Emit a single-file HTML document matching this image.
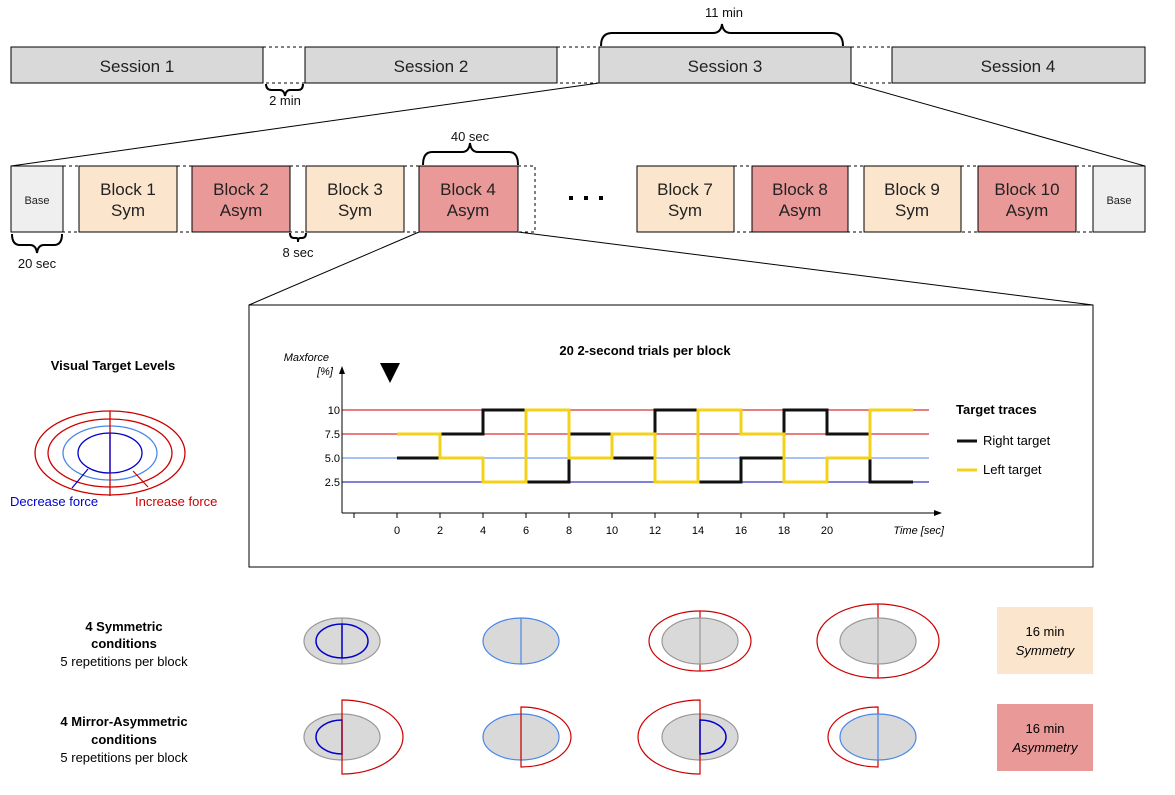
<!DOCTYPE html>
<html><head><meta charset="utf-8"><style>
html,body{margin:0;padding:0;background:#fff;}
svg{display:block;font-family:"Liberation Sans",Arial,sans-serif;}
</style></head><body>
<svg id="fig" width="1175" height="795" viewBox="0 0 1175 795" xmlns="http://www.w3.org/2000/svg">
<g>
  <rect x="263" y="47" width="42" height="36" fill="#fff" stroke="#000" stroke-dasharray="3,3"/>
  <rect x="557" y="47" width="42" height="36" fill="#fff" stroke="#000" stroke-dasharray="3,3"/>
  <rect x="851" y="47" width="41" height="36" fill="#fff" stroke="#000" stroke-dasharray="3,3"/>
  <rect x="11" y="47" width="252" height="36" fill="#d9d9d9" stroke="#000"/>
  <rect x="305" y="47" width="252" height="36" fill="#d9d9d9" stroke="#000"/>
  <rect x="599" y="47" width="252" height="36" fill="#d9d9d9" stroke="#000"/>
  <rect x="892" y="47" width="253" height="36" fill="#d9d9d9" stroke="#000"/>
  <g font-size="17" text-anchor="middle" fill="#222">
    <text x="137" y="72">Session 1</text>
    <text x="431" y="72">Session 2</text>
    <text x="725" y="72">Session 3</text>
    <text x="1018" y="72">Session 4</text>
  </g>
</g>
<g fill="none" stroke="#000" stroke-width="2">
  <path d="M601,46 Q601,33 612,33 L713,33 Q721,33 722,24 Q723,33 731,33 L832,33 Q843,33 843,46"/>
  <path d="M266,84 Q266,90 272,90 L280,90 Q284,90 285,96 Q286,90 290,90 L298,90 Q303,90 303,84"/>
  <path d="M423,165 Q423,152 432,152 L462,152 Q469,152 470,143 Q471,152 478,152 L509,152 Q518,152 518,165"/>
  <path d="M12,234 Q12,245 20,245 L30,245 Q36,245 37,253 Q38,245 44,245 L54,245 Q62,245 62,234"/>
  <path d="M290,233 Q290,238 294,238 L297,238 Q298,238 298,242 Q298,238 300,238 L302,238 Q306,238 306,233"/>
</g>
<g font-size="13" text-anchor="middle" fill="#111">
  <text x="724" y="17">11 min</text>
  <text x="285" y="105">2 min</text>
  <text x="470" y="141">40 sec</text>
  <text x="37" y="268">20 sec</text>
  <text x="298" y="257">8 sec</text>
</g>
<g stroke="#000" stroke-width="1">
  <line x1="11" y1="166" x2="599" y2="83"/>
  <line x1="1145" y1="166" x2="851" y2="83"/>
  <line x1="419" y1="232" x2="249" y2="305"/>
  <line x1="518" y1="232" x2="1093" y2="305"/>
</g>
<g>
  <g fill="#fff" stroke="#000" stroke-dasharray="3,3">
    <rect x="63" y="166" width="16" height="66"/><rect x="177" y="166" width="15" height="66"/>
    <rect x="290" y="166" width="16" height="66"/><rect x="404" y="166" width="15" height="66"/>
    <rect x="518" y="166" width="17" height="66"/>
    <rect x="734" y="166" width="18" height="66"/><rect x="848" y="166" width="16" height="66"/>
    <rect x="961" y="166" width="17" height="66"/><rect x="1076" y="166" width="17" height="66"/>
  </g>
  <rect x="11" y="166" width="52" height="66" fill="#efefef" stroke="#000"/>
  <rect x="79" y="166" width="98" height="66" fill="#fce5cd" stroke="#000"/>
  <rect x="192" y="166" width="98" height="66" fill="#ea9999" stroke="#000"/>
  <rect x="306" y="166" width="98" height="66" fill="#fce5cd" stroke="#000"/>
  <rect x="419" y="166" width="99" height="66" fill="#ea9999" stroke="#000"/>
  <rect x="637" y="166" width="97" height="66" fill="#fce5cd" stroke="#000"/>
  <rect x="752" y="166" width="96" height="66" fill="#ea9999" stroke="#000"/>
  <rect x="864" y="166" width="97" height="66" fill="#fce5cd" stroke="#000"/>
  <rect x="978" y="166" width="98" height="66" fill="#ea9999" stroke="#000"/>
  <rect x="1093" y="166" width="52" height="66" fill="#efefef" stroke="#000"/>
  <g font-size="11" text-anchor="middle" fill="#222"><text x="37" y="204">Base</text><text x="1119" y="204">Base</text></g>
  <g font-size="17" text-anchor="middle" fill="#222">
    <text x="128" y="195">Block 1</text><text x="128" y="216">Sym</text>
    <text x="241" y="195">Block 2</text><text x="241" y="216">Asym</text>
    <text x="355" y="195">Block 3</text><text x="355" y="216">Sym</text>
    <text x="468" y="195">Block 4</text><text x="468" y="216">Asym</text>
    <text x="685" y="195">Block 7</text><text x="685" y="216">Sym</text>
    <text x="800" y="195">Block 8</text><text x="800" y="216">Asym</text>
    <text x="912" y="195">Block 9</text><text x="912" y="216">Sym</text>
    <text x="1027" y="195">Block 10</text><text x="1027" y="216">Asym</text>
  </g>
  <g fill="#000">
    <rect x="569" y="196" width="4" height="4"/><rect x="584" y="196" width="4" height="4"/><rect x="599" y="196" width="4" height="4"/>
  </g>
</g>
<rect x="249" y="305" width="844" height="262" fill="none" stroke="#000"/>
<g id="chart"></g>
<g>
  <text x="113" y="370" font-size="13" font-weight="bold" text-anchor="middle">Visual Target Levels</text>
  <ellipse cx="110" cy="453" rx="75" ry="42" fill="none" stroke="#cc0000" stroke-width="1.3"/>
  <ellipse cx="110" cy="453" rx="62" ry="34" fill="none" stroke="#cc0000" stroke-width="1.3"/>
  <ellipse cx="110" cy="453" rx="47" ry="27" fill="none" stroke="#4a86e8" stroke-width="1.3"/>
  <ellipse cx="110" cy="453" rx="32" ry="20" fill="none" stroke="#0000cc" stroke-width="1.3"/>
  <line x1="110" y1="411" x2="110" y2="496" stroke="#cc0000" stroke-width="1.3"/>
  <line x1="110" y1="433" x2="110" y2="473" stroke="#0000cc" stroke-width="1.3"/>
  <line x1="72" y1="488" x2="88" y2="469" stroke="#0000cc" stroke-width="1.2"/>
  <line x1="133" y1="471" x2="148" y2="487" stroke="#cc0000" stroke-width="1.2"/>
  <text x="10" y="506" font-size="13" fill="#0000cc">Decrease force</text>
  <text x="135" y="506" font-size="13" fill="#cc0000">Increase force</text>
</g>
<g font-size="13" text-anchor="middle" fill="#000">
  <text x="124" y="631" font-weight="bold">4 Symmetric</text>
  <text x="124" y="648" font-weight="bold">conditions</text>
  <text x="124" y="666">5 repetitions per block</text>
  <text x="124" y="726" font-weight="bold">4 Mirror-Asymmetric</text>
  <text x="124" y="744" font-weight="bold">conditions</text>
  <text x="124" y="762">5 repetitions per block</text>
</g>
<g fill="none" stroke-width="1.2">
  <!-- row 1 -->
  <ellipse cx="342" cy="641" rx="38" ry="23" fill="#d9d9d9" stroke="#999"/>
  <line x1="342" y1="618" x2="342" y2="664" stroke="#999"/>
  <ellipse cx="342" cy="641" rx="26" ry="17" stroke="#0000cc" stroke-width="1.5"/>
  <line x1="342" y1="624" x2="342" y2="658" stroke="#0000cc" stroke-width="1.5"/>
  <ellipse cx="521" cy="641" rx="38" ry="23" fill="#d9d9d9" stroke="#4a86e8"/>
  <line x1="521" y1="618" x2="521" y2="664" stroke="#4a86e8"/>
  <ellipse cx="700" cy="641" rx="51" ry="30" stroke="#cc0000"/>
  <line x1="700" y1="611" x2="700" y2="671" stroke="#cc0000"/>
  <ellipse cx="700" cy="641" rx="38" ry="23" fill="#d9d9d9" stroke="#999"/>
  <line x1="700" y1="618" x2="700" y2="664" stroke="#999"/>
  <ellipse cx="878" cy="641" rx="61" ry="37" stroke="#cc0000"/>
  <line x1="878" y1="604" x2="878" y2="678" stroke="#cc0000"/>
  <ellipse cx="878" cy="641" rx="38" ry="23" fill="#d9d9d9" stroke="#999"/>
  <line x1="878" y1="618" x2="878" y2="664" stroke="#999"/>
  <!-- row 2 -->
  <ellipse cx="342" cy="737" rx="38" ry="23" fill="#d9d9d9" stroke="#999"/>
  <line x1="342" y1="714" x2="342" y2="760" stroke="#999"/>
  <path d="M342,720 A26,17 0 0 0 342,754 Z" stroke="#0000cc" stroke-width="1.5"/>
  <path d="M342,700 A61,37 0 0 1 342,774 Z" stroke="#cc0000"/>
  <ellipse cx="521" cy="737" rx="38" ry="23" fill="#d9d9d9" stroke="#4a86e8"/>
  <line x1="521" y1="714" x2="521" y2="760" stroke="#999"/>
  <path d="M521,707 A50,30 0 0 1 521,767 Z" stroke="#cc0000"/>
  <ellipse cx="700" cy="737" rx="38" ry="23" fill="#d9d9d9" stroke="#999"/>
  <line x1="700" y1="714" x2="700" y2="760" stroke="#999"/>
  <path d="M700,700 A62,37 0 0 0 700,774 Z" stroke="#cc0000"/>
  <path d="M700,720 A26,17 0 0 1 700,754 Z" stroke="#0000cc" stroke-width="1.5"/>
  <path d="M878,707 A50,30 0 0 0 878,767 Z" stroke="#cc0000"/>
  <ellipse cx="878" cy="737" rx="38" ry="23" fill="#d9d9d9" stroke="#4a86e8"/>
  <line x1="878" y1="714" x2="878" y2="760" stroke="#4a86e8"/>
</g>
<g>
  <rect x="997" y="607" width="96" height="67" fill="#fce5cd"/>
  <text x="1045" y="636" font-size="13" text-anchor="middle">16 min</text>
  <text x="1045" y="655" font-size="13" text-anchor="middle" font-style="italic">Symmetry</text>
</g>
<g>
  <rect x="997" y="704" width="96" height="67" fill="#ea9999"/>
  <text x="1045" y="733" font-size="13" text-anchor="middle">16 min</text>
  <text x="1045" y="752" font-size="13" text-anchor="middle" font-style="italic">Asymmetry</text>
</g>
</svg>
<script>
const levels = [10, 7.5, 5.0, 2.5];
const levelLabels = ["10", "7.5", "5.0", "2.5"];
const timeTicks = [0, 2, 4, 6, 8, 10, 12, 14, 16, 18, 20];
const segmentSeconds = 2;
const rightTarget = [5, 7.5, 10, 2.5, 7.5, 5, 10, 2.5, 5, 10, 7.5, 2.5];
const leftTarget = [7.5, 5, 2.5, 10, 5, 7.5, 2.5, 10, 7.5, 2.5, 5, 10];

const NS = "http://www.w3.org/2000/svg";
const g = document.getElementById("chart");
const xS = t => 397 + 21.5 * t;
const yS = v => 506 - 9.6 * v;
function mk(tag, attrs, parent) {
  const e = document.createElementNS(NS, tag);
  for (const k in attrs) e.setAttribute(k, attrs[k]);
  (parent || g).appendChild(e);
  return e;
}
let t = mk("text", {x: 645, y: 355, "font-size": 13, "font-weight": "bold", "text-anchor": "middle"});


t.textContent = "20 2-second trials per block";
// level lines
const lvlColors = ["#cc0000", "#cc0000", "#4a86e8", "#0000aa"];
levels.forEach((v, i) => {
  const l = mk("line", {x1: 342, x2: 929, y1: yS(v), y2: yS(v), stroke: lvlColors[i], "stroke-width": 1});
  
  
  const tx = mk("text", {x: 340, y: yS(v) + 4, "font-size": 11, "text-anchor": "end"});
  
  
  tx.textContent = levelLabels[i];
});
// axes
const ax = mk("path", {d: "M342,513 L936,513 M342,513 L342,370", stroke: "#000", fill: "none", "stroke-width": 1});


mk("path", {d: "M942,513 L934,510 L934,516 Z", fill: "#000"});
mk("path", {d: "M342,366 L339,374 L345,374 Z", fill: "#000"});
mk("line", {x1: xS(-2), x2: xS(-2), y1: 513, y2: 518, stroke: "#000"});
timeTicks.forEach(v => {
  mk("line", {x1: xS(v), x2: xS(v), y1: 513, y2: 518, stroke: "#000"});
  const tx = mk("text", {x: xS(v), y: 534, "font-size": 11, "text-anchor": "middle"});
  
  
  tx.textContent = v;
});
let a = mk("text", {x: 944, y: 534, "font-size": 11, "font-style": "italic", "text-anchor": "end"});


a.textContent = "Time [sec]";
a = mk("text", {x: 329, y: 361, "font-size": 11, "font-style": "italic", "text-anchor": "end"});


a.textContent = "Maxforce";
a = mk("text", {x: 333, y: 375, "font-size": 11, "font-style": "italic", "text-anchor": "end"});
a.textContent = "[%]";
const tri = mk("path", {d: "M380,363 L400,363 L390,383 Z", fill: "#000"});


function stepPath(vals) {
  let d = "";
  vals.forEach((v, i) => {
    const x0 = xS(i * segmentSeconds), x1 = xS((i + 1) * segmentSeconds);
    d += (i === 0 ? "M" : "L") + x0 + "," + yS(v) + " L" + x1 + "," + yS(v) + " ";
  });
  return d;
}
const rp = mk("path", {d: stepPath(rightTarget), stroke: "#111", "stroke-width": 3, fill: "none"});


const lp = mk("path", {d: stepPath(leftTarget), stroke: "#f5d21a", "stroke-width": 3, fill: "none"});


// legend
const lg = mk("g", {});


mk("text", {x: 956, y: 414, "font-size": 13, "font-weight": "bold"}, lg).textContent = "Target traces";
mk("line", {x1: 957, x2: 977, y1: 441, y2: 441, stroke: "#111", "stroke-width": 3}, lg);
mk("text", {x: 983, y: 445, "font-size": 13}, lg).textContent = "Right target";
mk("line", {x1: 957, x2: 977, y1: 470, y2: 470, stroke: "#f5d21a", "stroke-width": 3}, lg);
mk("text", {x: 983, y: 474, "font-size": 13}, lg).textContent = "Left target";
</script>
</body></html>
